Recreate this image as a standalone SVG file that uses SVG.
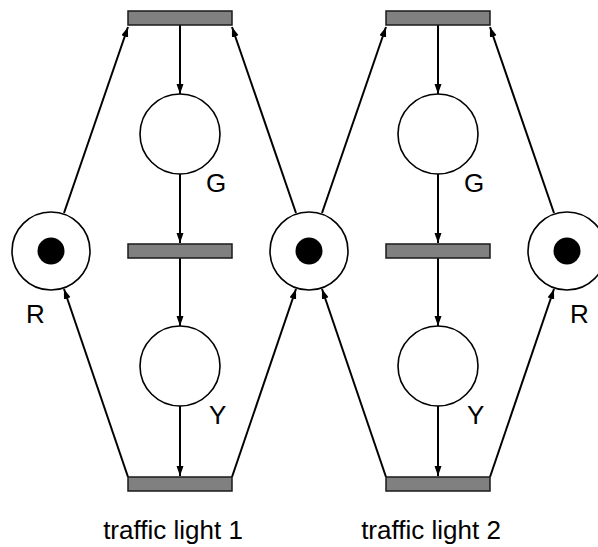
<svg xmlns="http://www.w3.org/2000/svg" width="598" height="547" viewBox="0 0 598 547">
  <style>
    .place { fill: #ffffff; stroke: #000000; stroke-width: 1.6; }
    .token { fill: #000000; }
    .trans { fill: #808080; stroke: #1a1a1a; stroke-width: 1.5; }
    .arc { fill: none; stroke: #000000; stroke-width: 2; marker-end: url(#arrow); }
    .lbl { font-family: "Liberation Sans", Arial, sans-serif; font-size: 26px; fill: #000000; }
    .cap { font-family: "Liberation Sans", Arial, sans-serif; font-size: 26px; fill: #000000; text-anchor: middle; }
  </style>
  <defs>
    <marker id="arrow" markerUnits="userSpaceOnUse" markerWidth="11" markerHeight="8" refX="10" refY="3.5" orient="auto">
      <path d="M0,0 L10,3.5 L0,7 z" fill="#000000"/>
    </marker>
  </defs>
  <rect width="598" height="547" fill="#ffffff"/>

  <!-- arcs between places and transitions -->
  <g id="connectors">
    <!-- traffic light 1 -->
    <line class="arc" x1="64" y1="213" x2="128" y2="27"/>
    <line class="arc" x1="296" y1="213" x2="232" y2="27"/>
    <line class="arc" x1="180" y1="25" x2="180" y2="94"/>
    <line class="arc" x1="180" y1="174" x2="180" y2="243"/>
    <line class="arc" x1="180" y1="258" x2="180" y2="326"/>
    <line class="arc" x1="180" y1="406" x2="180" y2="476"/>
    <line class="arc" x1="128" y1="477" x2="64" y2="289"/>
    <line class="arc" x1="232" y1="477" x2="296" y2="289"/>
    <!-- traffic light 2 -->
    <line class="arc" x1="322" y1="213" x2="386" y2="27"/>
    <line class="arc" x1="554" y1="213" x2="490" y2="27"/>
    <line class="arc" x1="438" y1="25" x2="438" y2="94"/>
    <line class="arc" x1="438" y1="174" x2="438" y2="243"/>
    <line class="arc" x1="438" y1="258" x2="438" y2="326"/>
    <line class="arc" x1="438" y1="406" x2="438" y2="476"/>
    <line class="arc" x1="386" y1="477" x2="322" y2="289"/>
    <line class="arc" x1="490" y1="477" x2="554" y2="289"/>
  </g>

  <!-- traffic light 1 -->
  <g id="t1-top"><rect class="trans" x="128" y="11" width="104" height="14"/></g>
  <g id="t1-mid"><rect class="trans" x="128" y="244" width="104" height="14"/></g>
  <g id="t1-bot"><rect class="trans" x="128" y="477" width="104" height="14"/></g>
  <g id="p1-G"><circle class="place" cx="180" cy="134" r="40"/><text class="lbl" x="206" y="192">G</text></g>
  <g id="p1-Y"><circle class="place" cx="180" cy="366" r="40"/><text class="lbl" x="209" y="424">Y</text></g>
  <g id="p1-R"><circle class="place" cx="51" cy="251" r="39"/><circle class="token" cx="51" cy="251" r="13.5"/><text class="lbl" x="26" y="323">R</text></g>

  <!-- shared place -->
  <g id="p-mid"><circle class="place" cx="309" cy="251" r="39"/><circle class="token" cx="309" cy="251" r="13.5"/></g>

  <!-- traffic light 2 -->
  <g id="t2-top"><rect class="trans" x="386" y="11" width="104" height="14"/></g>
  <g id="t2-mid"><rect class="trans" x="386" y="244" width="104" height="14"/></g>
  <g id="t2-bot"><rect class="trans" x="386" y="477" width="104" height="14"/></g>
  <g id="p2-G"><circle class="place" cx="438" cy="134" r="40"/><text class="lbl" x="464" y="192">G</text></g>
  <g id="p2-Y"><circle class="place" cx="438" cy="366" r="40"/><text class="lbl" x="467" y="424">Y</text></g>
  <g id="p2-R"><circle class="place" cx="567" cy="251" r="39"/><circle class="token" cx="567" cy="251" r="13.5"/><text class="lbl" x="570" y="323">R</text></g>

  <g id="captions">
    <text class="cap" x="173" y="539">traffic light 1</text>
    <text class="cap" x="431" y="539">traffic light 2</text>
  </g>
</svg>
